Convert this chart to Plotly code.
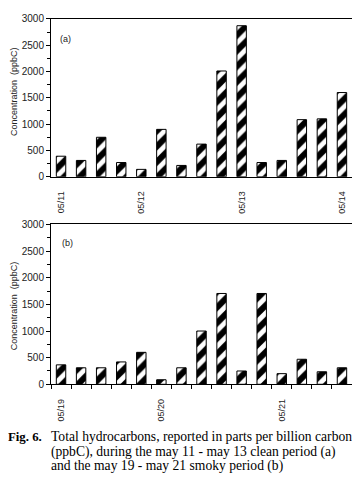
import plotly.graph_objects as go

# Panel (a): may 11 - may 13 clean period
pos_a = list(range(15))
vals_a = [390, 310, 750, 270, 140, 900, 215, 620, 2010, 2870, 270, 310, 1085, 1100, 1600]
tickpos_a = [0, 4, 9, 14]
ticklab_a = ["05/11", "05/12", "05/13", "05/14"]

# Panel (b): may 19 - may 21 smoky period
pos_b = list(range(15))
vals_b = [365, 310, 310, 420, 600, 85, 310, 1000, 1705, 250, 1705, 200, 470, 235, 310]
tickpos_b = [0, 5, 11]
ticklab_b = ["05/19", "05/20", "05/21"]

# page body has an 8px margin, so the figure is drawn at (8, 8)
OFF = 8
W, H = 360 - OFF, 478 - OFF
def px(x):
    return (x - OFF) / W
def py(y):
    return 1 - (y - OFF) / H

fig = go.Figure()

bar_style = dict(
    width=0.47,
    marker=dict(
        color="white",
        line=dict(color="black", width=1),
        pattern=dict(shape="/", fgcolor="black", bgcolor="white", fgopacity=1,
                     size=11, solidity=0.55),
    ),
    showlegend=False,
)

fig.add_trace(go.Bar(x=pos_a, y=vals_a, xaxis="x", yaxis="y", **bar_style))
fig.add_trace(go.Bar(x=pos_b, y=vals_b, xaxis="x2", yaxis="y2", **bar_style))

tickfont = dict(family="Arial, Liberation Sans, sans-serif", size=10, color="#222")
xfont = dict(family="Arial, Liberation Sans, sans-serif", size=9, color="#222")

yax = dict(
    range=[0, 3000], tickvals=[0, 500, 1000, 1500, 2000, 2500, 3000],
    ticks="outside", ticklen=4, tickwidth=1, tickcolor="black",
    minor=dict(ticks="outside", ticklen=3, tickmode="linear", tick0=0, dtick=250, tickcolor="black"),
    showline=True, linecolor="black", linewidth=1, mirror=True,
    showgrid=False, zeroline=False, tickfont=tickfont,
)

fig.update_layout(
    width=W, height=H,
    margin=dict(l=0, r=0, t=0, b=0),
    paper_bgcolor="white", plot_bgcolor="white",
    xaxis=dict(
        domain=[px(51), px(352)], anchor="y", range=[-0.5, 14.5],
        tickvals=tickpos_a, ticktext=ticklab_a, tickangle=-90, ticks="",
        ticklabelstandoff=10,
        showline=True, linecolor="black", linewidth=1, mirror=True,
        showgrid=False, zeroline=False, tickfont=xfont,
    ),
    yaxis=dict(domain=[py(175), py(13)], anchor="x", **yax),
    xaxis2=dict(
        domain=[px(51), px(352)], anchor="y2", range=[-0.5, 14.5],
        tickvals=tickpos_b, ticktext=ticklab_b, tickangle=-90, ticks="",
        ticklabelstandoff=10,
        minor=dict(ticks="outside", ticklen=4, tickmode="linear", tick0=-0.5, dtick=1, tickcolor="black"),
        showline=True, linecolor="black", linewidth=1, mirror=True,
        showgrid=False, zeroline=False, tickfont=xfont,
    ),
    yaxis2=dict(domain=[py(388), py(224)], anchor="x2", **yax),
)

afont = dict(family="Arial, Liberation Sans, sans-serif", size=9, color="#222")
annos = [
    dict(text="Concentration  (ppbC)", x=px(14), y=py(88), textangle=-90, font=afont),
    dict(text="Concentration  (ppbC)", x=px(14), y=py(308), textangle=-90, font=afont),
    dict(text="(a)", x=px(65), y=py(34), font=afont),
    dict(text="(b)", x=px(67), y=py(243), font=afont),
]
for a in annos:
    fig.add_annotation(xref="paper", yref="paper", showarrow=False, borderpad=0,
                       xanchor="center", yanchor="middle", **a)

cfont = dict(family="Liberation Serif, Times New Roman, serif", size=13.6, color="black")
fig.add_annotation(text="<b>Fig. 6.</b>", x=px(7), y=py(442), xref="paper", yref="paper",
                   showarrow=False, borderpad=0, xanchor="left", yanchor="middle",
                   font=dict(cfont, size=12.8))
cap_lines = [
    "Total hydrocarbons, reported in parts per billion carbon",
    "(ppbC), during the may 11 - may 13 clean period (a)",
    "and the may 19 - may 21 smoky period (b)",
]
for i, line in enumerate(cap_lines):
    fig.add_annotation(text=line, x=px(50), y=py(442 + 15 * i), xref="paper", yref="paper",
                       showarrow=False, borderpad=0, xanchor="left", yanchor="middle", font=cfont)

fig.write_html("out.html")
